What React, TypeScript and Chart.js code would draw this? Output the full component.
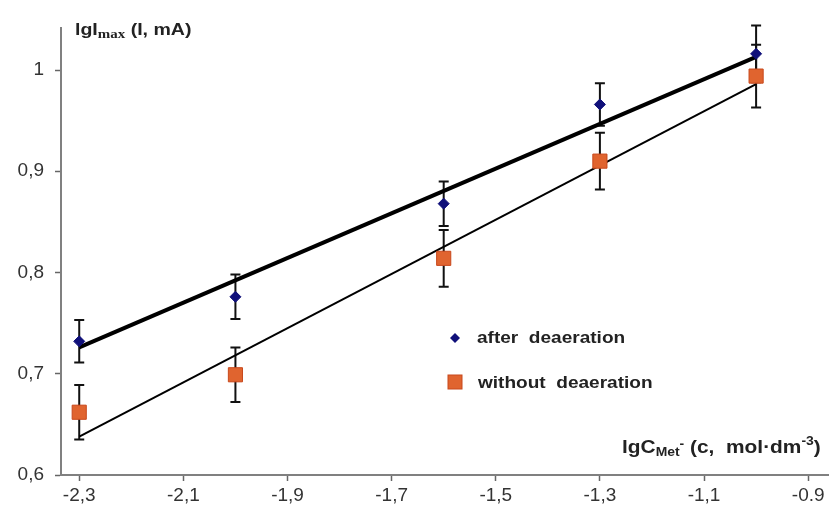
import React, { useEffect, useRef } from "react";
import { Chart, registerables } from "chart.js";
Chart.register(...registerables);

const concentrations = [-2.3, -2.0, -1.6, -1.3, -1.0];
const afterValues = [0.732, 0.776, 0.868, 0.966, 1.016];
const afterErrors = [0.021, 0.022, 0.022, 0.021, 0.028];
const withoutValues = [0.662, 0.699, 0.814, 0.910, 0.994];
const withoutErrors = [0.027, 0.027, 0.028, 0.028, 0.031];
const afterFitLine = [0.726, 1.013];
const withoutFitLine = [0.638, 0.986];
const fitX = [-2.3, -1.0];
const xTickValues = [-2.3, -2.1, -1.9, -1.7, -1.5, -1.3, -1.1, -0.9];
const xTickLabels = ["-2,3", "-2,1", "-1,9", "-1,7", "-1,5", "-1,3", "-1,1", "-0.9"];
const yTickValues = [0.6, 0.7, 0.8, 0.9, 1.0];
const yTickLabels = ["0,6", "0,7", "0,8", "0,9", "1"];
const legendLabels = ["after  deaeration", "without  deaeration"];

type Run = { t: string; f: string; dy?: number };
function drawRuns(ctx: CanvasRenderingContext2D, x: number, y: number, runs: Run[], sx: number) {
  ctx.save();
  ctx.translate(x, y);
  ctx.scale(sx, 1);
  let cx = 0;
  for (const r of runs) {
    ctx.font = r.f;
    ctx.fillText(r.t, cx, r.dy || 0);
    cx += ctx.measureText(r.t).width;
  }
  ctx.restore();
}

const SANS = "Arial, 'Liberation Sans', sans-serif";

const decorPlugin = {
  id: "decor",
  beforeDatasetsDraw(chart: any) {
    const ctx = chart.ctx;
    const xs = chart.scales.x;
    const ys = chart.scales.y;
    ctx.save();
    ctx.strokeStyle = "#111";
    ctx.lineWidth = 2;
    const bars = (vals: number[], errs: number[]) => {
      vals.forEach((v, i) => {
        const px = xs.getPixelForValue(concentrations[i]);
        const top = ys.getPixelForValue(v + errs[i]);
        const bot = ys.getPixelForValue(v - errs[i]);
        ctx.beginPath();
        ctx.moveTo(px, top);
        ctx.lineTo(px, bot);
        ctx.moveTo(px - 5, top);
        ctx.lineTo(px + 5, top);
        ctx.moveTo(px - 5, bot);
        ctx.lineTo(px + 5, bot);
        ctx.stroke();
      });
    };
    bars(afterValues, afterErrors);
    bars(withoutValues, withoutErrors);
    ctx.restore();
  },
  afterDraw(chart: any) {
    const ctx = chart.ctx;
    ctx.save();
    ctx.fillStyle = "#222";
    ctx.textBaseline = "alphabetic";
    ctx.textAlign = "left";
    const B17 = `bold 17px ${SANS}`;
    drawRuns(ctx, 75, 35, [
      { t: "lgI", f: B17 },
      { t: "max", f: "bold 13px 'Liberation Serif', 'Times New Roman', serif", dy: 3 },
      { t: " (I, mA)", f: B17 },
    ], 1.15);
    const B18 = `bold 18px ${SANS}`;
    const S = `bold 12px ${SANS}`;
    drawRuns(ctx, 622, 453, [
      { t: "lgC", f: B18 },
      { t: "Met", f: S, dy: 3 },
      { t: "-", f: S, dy: -5 },
      { t: " (c,  mol·dm", f: B18 },
      { t: "-3", f: S, dy: -8 },
      { t: ")", f: B18 },
    ], 1.16);
    // legend
    const L = `bold 17px ${SANS}`;
    drawRuns(ctx, 477, 343, [{ t: legendLabels[0], f: L }], 1.12);
    drawRuns(ctx, 478, 388, [{ t: legendLabels[1], f: L }], 1.12);
    ctx.fillStyle = "#10107a";
    ctx.beginPath();
    ctx.moveTo(455, 333);
    ctx.lineTo(460, 338);
    ctx.lineTo(455, 343);
    ctx.lineTo(450, 338);
    ctx.closePath();
    ctx.fill();
    ctx.fillStyle = "#e0642f";
    ctx.strokeStyle = "#c8481c";
    ctx.lineWidth = 1;
    ctx.fillRect(448, 375, 14, 14);
    ctx.strokeRect(448, 375, 14, 14);
    ctx.restore();
  },
};

export default function App() {
  const ref = useRef<HTMLCanvasElement>(null);
  useEffect(() => {
    document.body.style.margin = "0";
    const fitA = fitX.map((x, i) => ({ x, y: afterFitLine[i] }));
    const fitW = fitX.map((x, i) => ({ x, y: withoutFitLine[i] }));
    const ptsA = concentrations.map((x, i) => ({ x, y: afterValues[i] }));
    const ptsW = concentrations.map((x, i) => ({ x, y: withoutValues[i] }));
    const tickFont = { family: SANS, size: 19 };
    const chart = new Chart(ref.current!, {
      type: "scatter",
      data: {
        datasets: [
          { data: fitA, showLine: true, borderColor: "#000", borderWidth: 4, pointRadius: 0, order: 3 },
          { data: fitW, showLine: true, borderColor: "#000", borderWidth: 2, pointRadius: 0, order: 3 },
          {
            label: legendLabels[1],
            data: ptsW,
            pointStyle: "rect",
            pointRadius: 10,
            backgroundColor: "#e0642f",
            borderColor: "#c8481c",
            borderWidth: 1,
            order: 2,
          },
          {
            label: legendLabels[0],
            data: ptsA,
            pointStyle: "rectRot",
            pointRadius: 5.5,
            backgroundColor: "#10107a",
            borderColor: "#10107a",
            borderWidth: 1,
            order: 1,
          },
        ],
      },
      options: {
        animation: false,
        responsive: false,
        layout: { autoPadding: false, padding: { top: 28, right: 0, left: 0, bottom: 0 } },
        plugins: { legend: { display: false }, tooltip: { enabled: false } },
        scales: {
          x: {
            type: "linear",
            min: -2.335,
            max: -0.86,
            afterBuildTicks: (s: any) => {
              s.ticks = xTickValues.map((v) => ({ value: v }));
            },
            afterFit: (s: any) => {
              s.height = 37;
              s.paddingLeft = 0;
              s.paddingRight = 0;
            },
            grid: { display: true, drawOnChartArea: false, drawTicks: true, tickLength: 6, tickColor: "#666", tickWidth: 1.5 },
            border: { display: true, color: "#808080", width: 2 },
            ticks: {
              color: "#333",
              font: tickFont,
              padding: 3,
              autoSkip: false,
              maxRotation: 0,
              callback: (v: any) => {
                const i = xTickValues.findIndex((t) => Math.abs(t - v) < 1e-6);
                return i >= 0 ? xTickLabels[i] : "";
              },
            },
          },
          y: {
            type: "linear",
            min: 0.6,
            max: 1.0415,
            afterBuildTicks: (s: any) => {
              s.ticks = yTickValues.map((v) => ({ value: v }));
            },
            afterFit: (s: any) => {
              s.width = 61;
              s.paddingTop = 0;
              s.paddingBottom = 0;
            },
            grid: { display: true, drawOnChartArea: false, drawTicks: true, tickLength: 6, tickColor: "#666", tickWidth: 1.5 },
            border: { display: true, color: "#808080", width: 2 },
            ticks: {
              color: "#333",
              font: tickFont,
              padding: 11,
              callback: (v: any) => {
                const i = yTickValues.findIndex((t) => Math.abs(t - v) < 1e-6);
                return i >= 0 ? yTickLabels[i] : "";
              },
            },
          },
        },
      },
      plugins: [decorPlugin],
    } as any);
    return () => chart.destroy();
  }, []);
  return <canvas ref={ref} width={829} height={512} style={{ display: "block" }} />;
}
